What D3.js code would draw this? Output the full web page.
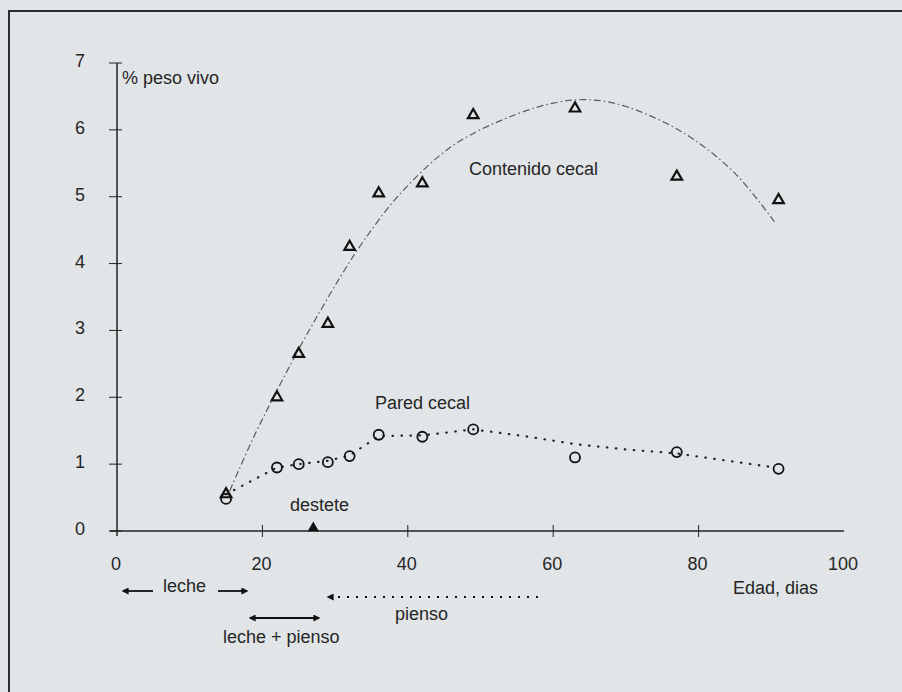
<!DOCTYPE html>
<html>
  <head>
    <meta charset="utf-8">
    <title>Contenido y pared cecal</title>
    <style>
      body { margin: 0; background: #e1e5e7; }
      text { font-family: "Liberation Sans", Arial, sans-serif; font-size: 18px; fill: #262626; }
      .axis { stroke: #222; stroke-width: 1.5px; fill: none; }
    </style>
    <script src="https://cdn.jsdelivr.net/npm/d3@7"></script>
  </head>
  <body>
  <script type="text/javascript">
    // edad (dias) de cada muestreo
    var edad = [15, 22, 25, 29, 32, 36, 42, 49, 63, 77, 91];
    // % peso vivo
    var contenido = [0.55, 2.0, 2.65, 3.1, 4.25, 5.05, 5.2, 6.22, 6.32, 5.3, 4.95];
    var pared = [0.48, 0.95, 1.0, 1.03, 1.12, 1.44, 1.41, 1.52, 1.1, 1.18, 0.93];

    // curvas de ajuste
    var ajusteContX = [15.5, 19, 22, 25, 28, 31, 34, 39, 46, 53, 60, 65, 70, 78, 85, 90.6];
    var ajusteContY = [0.6, 1.45, 2.1, 2.72, 3.3, 3.85, 4.35, 5.05, 5.75, 6.15, 6.4, 6.45, 6.35, 5.95, 5.35, 4.6];
    var ajusteParX = [15, 22, 25, 29, 32, 36, 42, 49, 56, 63, 70, 77, 84, 90.5];
    var ajusteParY = [0.55, 0.95, 1.0, 1.05, 1.13, 1.42, 1.43, 1.52, 1.42, 1.3, 1.22, 1.16, 1.05, 0.95];

    var xTicks = [0, 20, 40, 60, 80, 100];
    var yTicks = [0, 1, 2, 3, 4, 5, 6, 7];
    var destete = 27;

    var width = 902, height = 692;
    var svg = d3.select("body").append("svg")
      .attr("width", width).attr("height", height);

    // marco
    svg.append("rect")
      .attr("x", 9).attr("y", 11).attr("width", 920).attr("height", 720)
      .attr("fill", "none").attr("stroke", "#2b2b2b").attr("stroke-width", 2);

    var x = d3.scaleLinear().domain([0, 100]).range([117, 844]);
    var y = d3.scaleLinear().domain([0, 7]).range([531, 63]);

    // eje y
    svg.append("line").attr("class", "axis")
      .attr("x1", x(0)).attr("x2", x(0)).attr("y1", y(7)).attr("y2", y(0) + 5);
    svg.selectAll(".ytick").data(yTicks).enter().append("line")
      .attr("class", "axis")
      .attr("x1", x(0) - 8).attr("x2", x(0) + 5)
      .attr("y1", function(d){ return y(d); })
      .attr("y2", function(d){ return y(d); })
      .style("stroke-width", "1px");
    svg.selectAll(".ylab").data(yTicks).enter().append("text")
      .attr("x", 80).attr("y", function(d){ return y(d) + 4; })
      .attr("text-anchor", "middle")
      .text(function(d){ return d; });

    // eje x
    svg.append("line").attr("class", "axis")
      .attr("x1", x(0) - 7).attr("x2", x(100)).attr("y1", y(0)).attr("y2", y(0));
    svg.selectAll(".xtick").data(xTicks.slice(1, 5)).enter().append("line")
      .attr("class", "axis")
      .attr("x1", function(d){ return x(d); })
      .attr("x2", function(d){ return x(d); })
      .attr("y1", y(0) - 6).attr("y2", y(0) + 6)
      .style("stroke-width", "1px");
    svg.selectAll(".xlab").data(xTicks).enter().append("text")
      .attr("x", function(d){ return x(d) - 1; }).attr("y", 570)
      .attr("text-anchor", "middle")
      .text(function(d){ return d; });

    svg.append("text").attr("x", 122).attr("y", 84).text("% peso vivo");
    svg.append("text").attr("x", 733).attr("y", 594).text("Edad, dias");

    // curvas de ajuste
    var line = d3.line()
      .x(function(d){ return x(d[0]); })
      .y(function(d){ return y(d[1]); });

    svg.append("path")
      .datum(d3.zip(ajusteContX, ajusteContY))
      .attr("d", line.curve(d3.curveCatmullRom))
      .attr("fill", "none").attr("stroke", "#5a5a5a")
      .attr("stroke-width", 1.2)
      .attr("stroke-dasharray", "7,3,1.5,3");

    svg.append("path")
      .datum(d3.zip(ajusteParX, ajusteParY))
      .attr("d", line.curve(d3.curveLinear))
      .attr("fill", "none").attr("stroke", "#222")
      .attr("stroke-width", 2.2)
      .attr("stroke-linecap", "round")
      .attr("stroke-dasharray", "0.5,8.5");

    // puntos
    var tri = d3.symbol().type(d3.symbolTriangle).size(48);
    svg.selectAll(".tri").data(d3.zip(edad, contenido)).enter().append("path")
      .attr("d", tri)
      .attr("transform", function(d){ return "translate(" + x(d[0]) + "," + y(d[1]) + ")"; })
      .attr("fill", "none").attr("stroke", "#111").attr("stroke-width", 2.2);

    svg.selectAll(".circ").data(d3.zip(edad, pared)).enter().append("circle")
      .attr("cx", function(d){ return x(d[0]); })
      .attr("cy", function(d){ return y(d[1]); })
      .attr("r", 5)
      .attr("fill", "none").attr("stroke", "#111").attr("stroke-width", 1.8);

    svg.append("text").attr("x", 469).attr("y", 175).text("Contenido cecal");
    svg.append("text").attr("x", 375).attr("y", 409).text("Pared cecal");

    // destete
    svg.append("path")
      .attr("d", d3.symbol().type(d3.symbolTriangle).size(55))
      .attr("transform", "translate(" + x(destete) + "," + (y(0) - 3) + ")")
      .attr("fill", "#111");
    svg.append("text").attr("x", 290).attr("y", 511).text("destete");

    // flechas de alimentacion
    var defs = svg.append("defs");
    defs.append("marker").attr("id", "head")
      .attr("viewBox", "0 0 10 10").attr("refX", 8).attr("refY", 5)
      .attr("markerWidth", 7).attr("markerHeight", 7)
      .attr("markerUnits", "userSpaceOnUse")
      .attr("orient", "auto-start-reverse")
      .append("path").attr("d", "M0,0L10,5L0,10Z").attr("fill", "#111");

    function arrow(x1, x2, yy, both, dotted) {
      var l = svg.append("line")
        .attr("x1", x1).attr("x2", x2).attr("y1", yy).attr("y2", yy)
        .attr("stroke", "#111").attr("stroke-width", dotted ? 2 : 1.8)
        .attr("marker-end", "url(#head)");
      if (both) l.attr("marker-start", "url(#head)");
      if (dotted) l.attr("stroke-dasharray", "2,7");
      return l;
    }
    arrow(153, 123, 591, false, false);
    arrow(218, 247, 591, false, false);
    arrow(250, 319, 618, true, false);
    arrow(538, 328, 597, false, true);

    svg.append("text").attr("x", 163).attr("y", 592).text("leche");
    svg.append("text").attr("x", 223).attr("y", 643).text("leche + pienso");
    svg.append("text").attr("x", 395).attr("y", 620).text("pienso");
  </script>
  </body>
</html>
